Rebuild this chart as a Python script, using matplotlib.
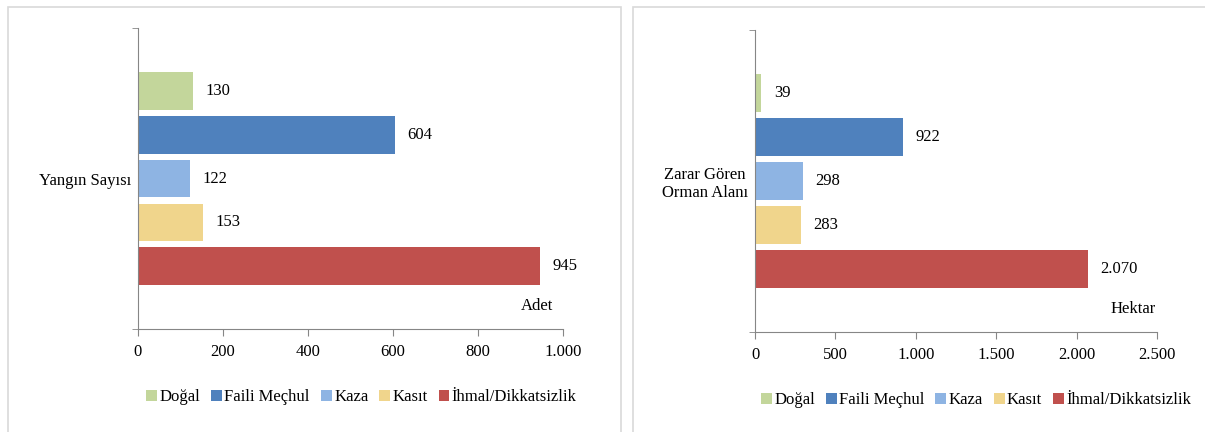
import matplotlib.pyplot as plt
from matplotlib.patches import Rectangle, Patch
from matplotlib.ticker import FuncFormatter

plt.rcParams['font.family'] = ['Liberation Serif', 'DejaVu Serif']

# veriler
causes = ['Doğal', 'Faili Meçhul', 'Kaza', 'Kasıt', 'İhmal/Dikkatsizlik']
colors = ['#C3D69B', '#4F81BD', '#8EB4E3', '#F0D58C', '#C0504D']
fire_counts = [130, 604, 122, 153, 945]
burned_area = [39, 922, 298, 283, 2070]
count_ticks = [0, 200, 400, 600, 800, 1000]
area_ticks = [0, 500, 1000, 1500, 2000, 2500]

FS = 12


def tr_num(v, pos=None):
    # Türkçe binlik ayırıcı
    return f'{int(v):,}'.replace(',', '.')


def draw_panel(ax, values, ticks, cat_label, unit):
    ypos = list(range(len(values)))
    ax.barh(ypos, values, height=0.86, color=colors)
    for y, v in zip(ypos, values):
        ax.annotate(tr_num(v), (v, y), xytext=(9, 0), textcoords='offset points',
                    va='center', ha='left', fontsize=FS)
    ax.set_ylim(5.43, -1.43)
    ax.set_xlim(ticks[0], ticks[-1])
    ax.set_xticks(ticks)
    ax.xaxis.set_major_formatter(FuncFormatter(tr_num))
    ax.set_yticks([2])
    ax.set_yticklabels([cat_label], multialignment='center')
    ax.set_yticks([5.43, -1.43], minor=True)
    ax.tick_params(axis='y', which='major', length=0, pad=5, labelsize=FS)
    ax.tick_params(axis='y', which='minor', length=4, color='#868686')
    ax.tick_params(axis='x', length=5, color='#868686', labelsize=FS, pad=6)
    for s in ['top', 'right']:
        ax.spines[s].set_visible(False)
    for s in ['left', 'bottom']:
        ax.spines[s].set_color('#868686')
    ax.text(0.94, 0.076, unit, transform=ax.transAxes, ha='center', va='center', fontsize=FS)


fig = plt.figure(figsize=(12.05, 4.32), dpi=100)

# panel cerceveleri
fig.patches.append(Rectangle((0.0066, -0.05), 0.509, 1.034, transform=fig.transFigure,
                             fill=False, edgecolor='#D9D9D9', linewidth=1.2))
fig.patches.append(Rectangle((0.525, -0.05), 0.5, 1.034, transform=fig.transFigure,
                             fill=False, edgecolor='#D9D9D9', linewidth=1.2))

ax1 = fig.add_axes([0.1145, 0.2384, 0.3527, 0.6966])
draw_panel(ax1, fire_counts, count_ticks, 'Yangın Sayısı', 'Adet')

ax2 = fig.add_axes([0.6266, 0.2315, 0.3336, 0.6991])
draw_panel(ax2, burned_area, area_ticks, 'Zarar Gören\nOrman Alanı', 'Hektar')

handles = [Patch(facecolor=c, label=l) for c, l in zip(colors, causes)]
for cx, cy in [(0.30, 0.081), (0.81, 0.074)]:
    fig.legend(handles=handles, loc='center', bbox_to_anchor=(cx, cy), ncol=5,
               frameon=False, fontsize=FS, handlelength=0.65, handleheight=0.65,
               handletextpad=0.15, columnspacing=0.65)

fig.savefig('out.png', dpi=100)
